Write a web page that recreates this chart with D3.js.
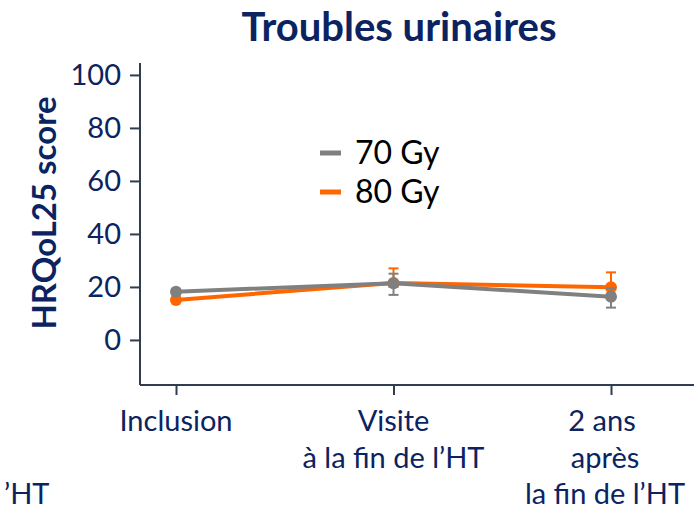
<!DOCTYPE html>
<html><head><meta charset="utf-8">
<script src="https://cdn.jsdelivr.net/npm/d3@7"></script>
<style>body{margin:0;background:#fff}</style>
</head><body>
<svg id="c" width="694" height="510"></svg>
<script>
const categories = ["Inclusion", "Visite", "2 ans"];
const categoryLabels = [["Inclusion"], ["Visite", "à la fin de l\u2019HT"], ["2 ans", "après", "la fin de l\u2019HT"]];
const seriesNames = ["70 Gy", "80 Gy"];
const values70 = [18.2, 21.4, 16.3];
const err70Low = [17.2, 17.0, 12.2];
const err70High = [19.2, 25.0, 19.5];
const values80 = [15.1, 21.5, 19.9];
const err80Low = [14.3, 20.0, 17.5];
const err80High = [16.0, 27.0, 25.5];
const yTicks = [0, 20, 40, 60, 80, 100];

const navy = "#0b2461";
const colors = {"70 Gy": "#808080", "80 Gy": "#ff6600"};
const svg = d3.select("#c");
const font = "Lato, 'Open Sans', sans-serif";

const y = d3.scaleLinear().domain([-17, 104.5]).range([385, 63]);
const x = d3.scalePoint().domain(categories).range([176, 611]);

// title
svg.append("text").attr("x", 399).attr("y", 41).attr("text-anchor", "middle")
  .attr("font-family", font).attr("font-weight", "bold").attr("font-size", 40)
  .attr("fill", navy).text("Troubles urinaires");

// y label
svg.append("text").attr("transform", "translate(56,213) rotate(-90)").attr("text-anchor", "middle")
  .attr("font-family", font).attr("font-weight", "bold").attr("font-size", 33)
  .attr("fill", navy).text("HRQoL25 score");

// axes
const yAxis = svg.append("g").attr("transform", "translate(140,0)")
  .call(d3.axisLeft(y).tickValues(yTicks).tickSize(10).tickPadding(9));
yAxis.select(".domain").attr("d", `M0,${y(104.5)}V${y(-17)}`);
const xAxis = svg.append("g").attr("transform", "translate(0,385)")
  .call(d3.axisBottom(x).tickSize(10).tickFormat(""));
xAxis.select(".domain").attr("d", "M140,0H694");
svg.selectAll(".domain, .tick line").attr("stroke", "#2f3d4f").attr("stroke-width", 2);
yAxis.selectAll(".tick text").attr("font-family", font).attr("font-size", 29).attr("fill", navy);

// x labels
const xOffsets = [[0], [0, 0], [-9, -6, -6]];
const lineY = [431, 468, 504];
categories.forEach((c, i) => {
  categoryLabels[i].forEach((t, j) => {
    svg.append("text").attr("x", x(c) + xOffsets[i][j])
      .attr("y", lineY[j]).attr("text-anchor", "middle")
      .attr("font-family", font).attr("font-size", 29).attr("fill", navy).text(t);
  });
});
// leftover fragment of a neighbouring panel's label, as visible in the source
svg.append("text").attr("x", 4).attr("y", 504).attr("text-anchor", "start")
  .attr("font-family", font).attr("font-size", 29).attr("fill", navy).text("\u2019HT");

const series = [
  {name: "70 Gy", v: values70, lo: err70Low, hi: err70High},
  {name: "80 Gy", v: values80, lo: err80Low, hi: err80High}
];
const line = d3.line().x((d, i) => x(categories[i])).y(d => y(d));
[series[1], series[0]].forEach(s => {
  const g = svg.append("g");
  const col = colors[s.name];
  s.v.forEach((v, i) => {
    const cx = x(categories[i]);
    g.append("line").attr("x1", cx).attr("x2", cx).attr("y1", y(s.lo[i])).attr("y2", y(s.hi[i]))
      .attr("stroke", col).attr("stroke-width", 2);
    [s.lo[i], s.hi[i]].forEach(e => g.append("line").attr("x1", cx - 5).attr("x2", cx + 5)
      .attr("y1", y(e)).attr("y2", y(e)).attr("stroke", col).attr("stroke-width", 2));
  });
  g.append("path").attr("d", line(s.v)).attr("fill", "none").attr("stroke", col).attr("stroke-width", 4);
  s.v.forEach((v, i) => g.append("circle").attr("cx", x(categories[i])).attr("cy", y(v)).attr("r", 6).attr("fill", col));
});

// legend
seriesNames.forEach((n, i) => {
  const ly = 153 + i * 39;
  svg.append("line").attr("x1", 320).attr("x2", 341).attr("y1", ly).attr("y2", ly)
    .attr("stroke", colors[n]).attr("stroke-width", 5);
  svg.append("text").attr("x", 355).attr("y", ly + 11).attr("font-family", font).attr("font-size", 32)
    .attr("fill", "#000").text(n);
});
</script>
</body></html>
